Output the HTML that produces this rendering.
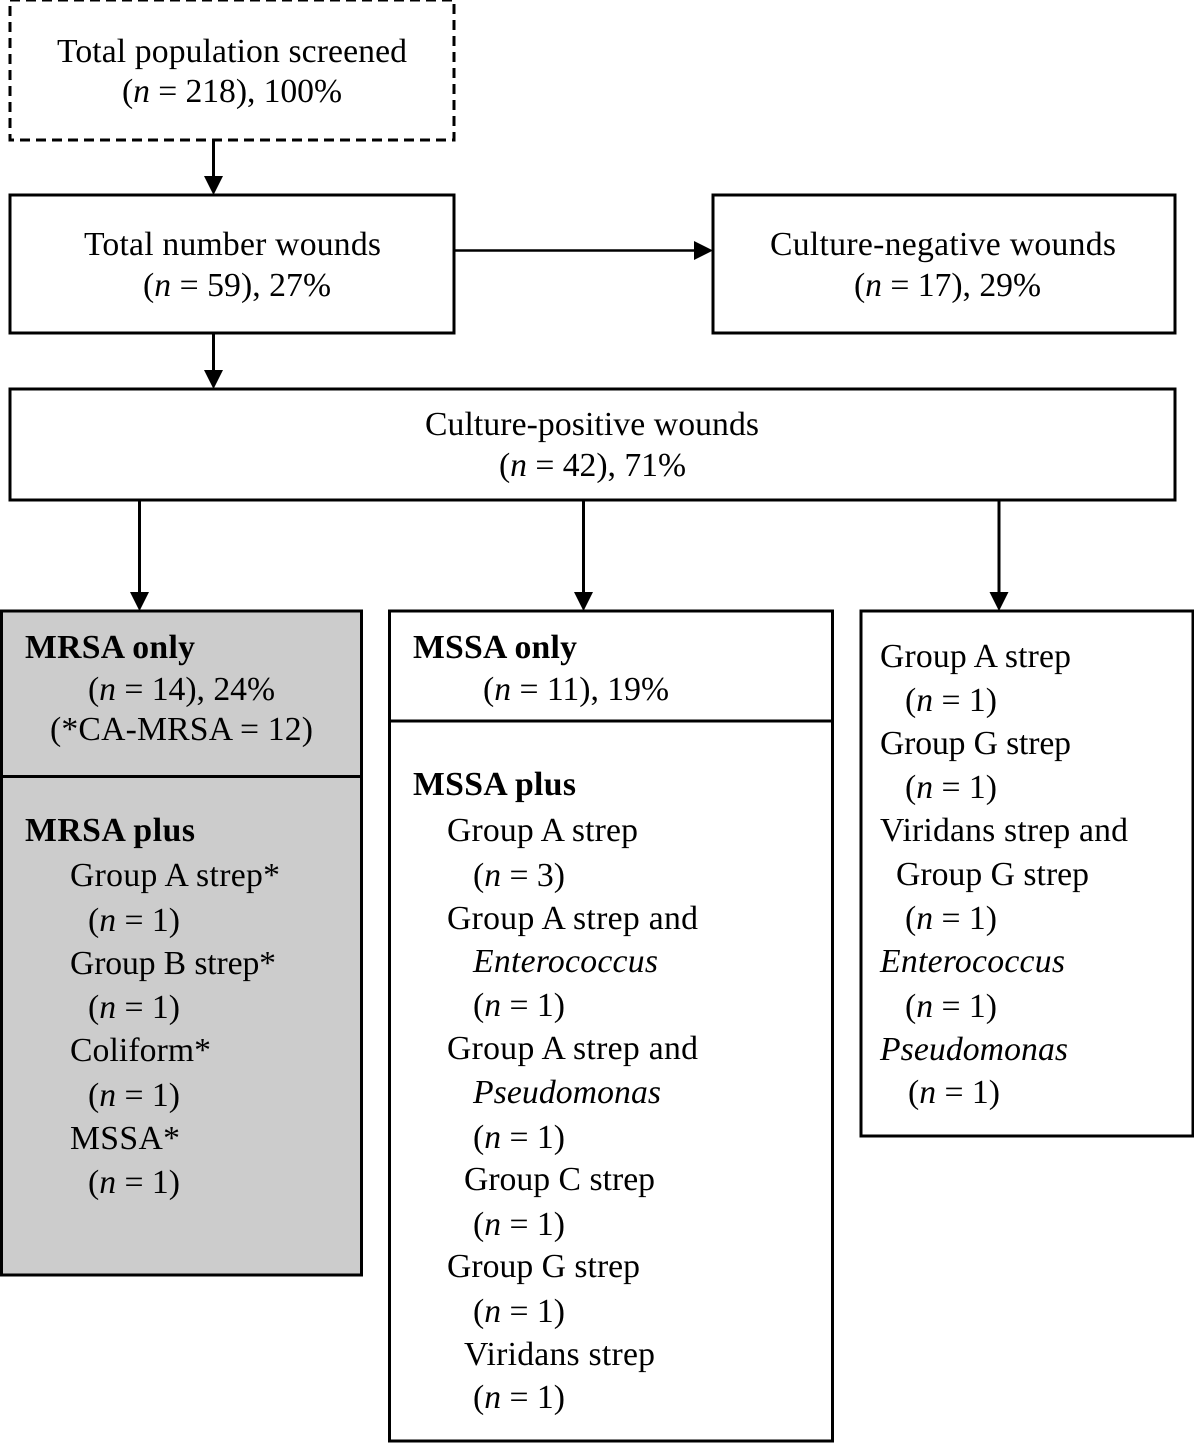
<!DOCTYPE html>
<html><head><meta charset="utf-8">
<style>
html,body{margin:0;padding:0;background:#fff}
svg{display:block}
text{font-family:"Liberation Serif",serif;font-size:33.7px;fill:#000;text-rendering:geometricPrecision}
.b{font-weight:bold}
.i{font-style:italic}
</style></head>
<body>
<svg width="1194" height="1443" viewBox="0 0 1194 1443" xmlns="http://www.w3.org/2000/svg">
<g fill="none" stroke="#000" stroke-width="3">
<rect x="10" y="0" width="444" height="140" stroke-dasharray="10 6"/>
<rect x="10" y="195" width="444" height="138"/>
<rect x="713" y="195" width="462" height="138"/>
<rect x="10" y="389" width="1165" height="111"/>
<rect x="1.5" y="611" width="360" height="664" fill="#cccccc"/>
<line x1="1" y1="776.500" x2="361" y2="776.500"/>
<rect x="389.500" y="611" width="443" height="830"/>
<line x1="389" y1="721" x2="832" y2="721"/>
<rect x="861" y="611" width="332" height="525"/>
<line x1="213.500" y1="140" x2="213.500" y2="178"/>
<line x1="213.500" y1="333" x2="213.500" y2="372"/>
<line x1="454" y1="250.500" x2="696" y2="250.500" stroke-width="2.500"/>
<line x1="139.500" y1="500" x2="139.500" y2="594"/>
<line x1="583.500" y1="500" x2="583.500" y2="594"/>
<line x1="999" y1="500" x2="999" y2="594"/>
</g>
<g fill="#000">
<polygon points="204,176 223,176 213.500,195"/>
<polygon points="204,370 223,370 213.500,389"/>
<polygon points="694,241 694,260 713,250.500"/>
<polygon points="130,592 149,592 139.500,611"/>
<polygon points="574,592 593,592 583.500,611"/>
<polygon points="989.500,592 1008.500,592 999,611"/>
</g>
<text x="57" y="62" textLength="350">Total population screened</text>
<text x="122" y="102" textLength="220">(<tspan class="i">n</tspan> = 218), 100%</text>
<text x="84" y="255" textLength="297">Total number wounds</text>
<text x="143" y="296" textLength="188">(<tspan class="i">n</tspan> = 59), 27%</text>
<text x="770" y="255" textLength="346">Culture-negative wounds</text>
<text x="854" y="296" textLength="187">(<tspan class="i">n</tspan> = 17), 29%</text>
<text x="425" y="435" textLength="334">Culture-positive wounds</text>
<text x="499" y="476" textLength="187">(<tspan class="i">n</tspan> = 42), 71%</text>

<text x="25" y="658" class="b" textLength="170">MRSA only</text>
<text x="88" y="700" textLength="187">(<tspan class="i">n</tspan> = 14), 24%</text>
<text x="50" y="740" textLength="263">(*CA-MRSA = 12)</text>
<text x="25" y="841" class="b" textLength="170">MRSA plus</text>
<text x="70" y="886" textLength="210">Group A strep*</text>
<text x="88" y="931" textLength="92">(<tspan class="i">n</tspan> = 1)</text>
<text x="70" y="974" textLength="206">Group B strep*</text>
<text x="88" y="1018" textLength="92">(<tspan class="i">n</tspan> = 1)</text>
<text x="70" y="1061" textLength="141">Coliform*</text>
<text x="88" y="1106" textLength="92">(<tspan class="i">n</tspan> = 1)</text>
<text x="70" y="1149" textLength="110">MSSA*</text>
<text x="88" y="1193" textLength="92">(<tspan class="i">n</tspan> = 1)</text>

<text x="413" y="658" class="b" textLength="164">MSSA only</text>
<text x="483" y="700" textLength="186">(<tspan class="i">n</tspan> = 11), 19%</text>
<text x="413" y="795" class="b" textLength="163">MSSA plus</text>
<text x="447" y="841" textLength="191">Group A strep</text>
<text x="473" y="886" textLength="92">(<tspan class="i">n</tspan> = 3)</text>
<text x="447" y="929" textLength="251">Group A strep and</text>
<text x="473" y="972" class="i" textLength="185">Enterococcus</text>
<text x="473" y="1016" textLength="92">(<tspan class="i">n</tspan> = 1)</text>
<text x="447" y="1059" textLength="251">Group A strep and</text>
<text x="473" y="1103" class="i" textLength="188">Pseudomonas</text>
<text x="473" y="1148" textLength="92">(<tspan class="i">n</tspan> = 1)</text>
<text x="464" y="1190" textLength="191">Group C strep</text>
<text x="473" y="1235" textLength="92">(<tspan class="i">n</tspan> = 1)</text>
<text x="447" y="1277" textLength="193">Group G strep</text>
<text x="473" y="1322" textLength="92">(<tspan class="i">n</tspan> = 1)</text>
<text x="464" y="1365" textLength="191">Viridans strep</text>
<text x="473" y="1408" textLength="92">(<tspan class="i">n</tspan> = 1)</text>

<text x="880" y="667" textLength="191">Group A strep</text>
<text x="905" y="711" textLength="92">(<tspan class="i">n</tspan> = 1)</text>
<text x="880" y="754" textLength="191">Group G strep</text>
<text x="905" y="798" textLength="92">(<tspan class="i">n</tspan> = 1)</text>
<text x="880" y="841" textLength="248">Viridans strep and</text>
<text x="896" y="885" textLength="193">Group G strep</text>
<text x="905" y="929" textLength="92">(<tspan class="i">n</tspan> = 1)</text>
<text x="880" y="972" class="i" textLength="185">Enterococcus</text>
<text x="905" y="1017" textLength="92">(<tspan class="i">n</tspan> = 1)</text>
<text x="880" y="1060" class="i" textLength="188">Pseudomonas</text>
<text x="908" y="1103" textLength="92">(<tspan class="i">n</tspan> = 1)</text>
</svg>
</body></html>
